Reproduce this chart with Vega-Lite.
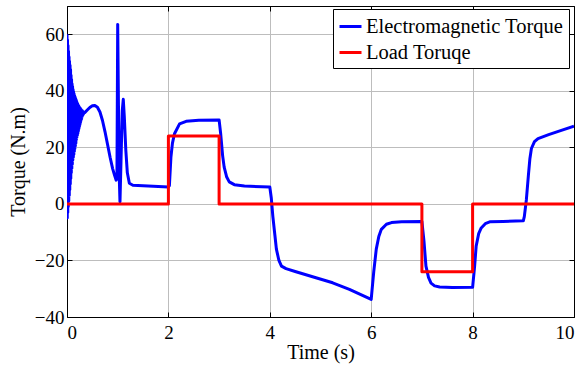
{
  "$schema": "https://vega.github.io/schema/vega-lite/v6.json",
  "width": 507,
  "height": 311,
  "autosize": {"type": "none"},
  "padding": {"left": 67, "top": 6, "right": 12, "bottom": 49},
  "background": "white",
  "config": {
    "view": {"stroke": "black", "strokeWidth": 1},
    "font": "Liberation Serif",
    "style": {
      "guide-label": {"font": "Liberation Serif", "fill": "black"},
      "guide-title": {"font": "Liberation Serif", "fill": "black"}
    },
    "axis": {
      "labelFont": "Liberation Serif",
      "labelFontSize": 19,
      "labelColor": "black",
      "titleFont": "Liberation Serif",
      "titleFontSize": 20,
      "titleFontWeight": "normal",
      "titleColor": "black",
      "domainColor": "black",
      "tickColor": "black",
      "gridColor": "#bdbdbd",
      "gridWidth": 1
    },
    "legend": {
      "labelFont": "Liberation Serif",
      "labelFontSize": 20.5,
      "labelColor": "black",
      "labelLimit": 0
    }
  },
  "data": {
    "values": [
      {"i": 1, "series": "Electromagnetic Torque", "t": 0, "torque": 60},
      {"i": 2, "series": "Electromagnetic Torque", "t": 0.005, "torque": -5},
      {"i": 3, "series": "Electromagnetic Torque", "t": 0.01, "torque": 58},
      {"i": 4, "series": "Electromagnetic Torque", "t": 0.015, "torque": -3},
      {"i": 5, "series": "Electromagnetic Torque", "t": 0.02, "torque": 56},
      {"i": 6, "series": "Electromagnetic Torque", "t": 0.025, "torque": -1},
      {"i": 7, "series": "Electromagnetic Torque", "t": 0.03, "torque": 54},
      {"i": 8, "series": "Electromagnetic Torque", "t": 0.035, "torque": 1},
      {"i": 9, "series": "Electromagnetic Torque", "t": 0.04, "torque": 52},
      {"i": 10, "series": "Electromagnetic Torque", "t": 0.045, "torque": 3},
      {"i": 11, "series": "Electromagnetic Torque", "t": 0.05, "torque": 50.5},
      {"i": 12, "series": "Electromagnetic Torque", "t": 0.055, "torque": 5},
      {"i": 13, "series": "Electromagnetic Torque", "t": 0.06, "torque": 49},
      {"i": 14, "series": "Electromagnetic Torque", "t": 0.065, "torque": 7},
      {"i": 15, "series": "Electromagnetic Torque", "t": 0.07, "torque": 47.5},
      {"i": 16, "series": "Electromagnetic Torque", "t": 0.075, "torque": 9},
      {"i": 17, "series": "Electromagnetic Torque", "t": 0.08, "torque": 45.5},
      {"i": 18, "series": "Electromagnetic Torque", "t": 0.085, "torque": 11},
      {"i": 19, "series": "Electromagnetic Torque", "t": 0.09, "torque": 44},
      {"i": 20, "series": "Electromagnetic Torque", "t": 0.095, "torque": 12.5},
      {"i": 21, "series": "Electromagnetic Torque", "t": 0.10, "torque": 42.5},
      {"i": 22, "series": "Electromagnetic Torque", "t": 0.105, "torque": 14},
      {"i": 23, "series": "Electromagnetic Torque", "t": 0.11, "torque": 41.5},
      {"i": 24, "series": "Electromagnetic Torque", "t": 0.115, "torque": 15.5},
      {"i": 25, "series": "Electromagnetic Torque", "t": 0.12, "torque": 40.5},
      {"i": 26, "series": "Electromagnetic Torque", "t": 0.125, "torque": 16.5},
      {"i": 27, "series": "Electromagnetic Torque", "t": 0.13, "torque": 39.7},
      {"i": 28, "series": "Electromagnetic Torque", "t": 0.135, "torque": 17.5},
      {"i": 29, "series": "Electromagnetic Torque", "t": 0.14, "torque": 39},
      {"i": 30, "series": "Electromagnetic Torque", "t": 0.145, "torque": 18.5},
      {"i": 31, "series": "Electromagnetic Torque", "t": 0.15, "torque": 38.3},
      {"i": 32, "series": "Electromagnetic Torque", "t": 0.155, "torque": 19.5},
      {"i": 33, "series": "Electromagnetic Torque", "t": 0.16, "torque": 37.8},
      {"i": 34, "series": "Electromagnetic Torque", "t": 0.165, "torque": 20.5},
      {"i": 35, "series": "Electromagnetic Torque", "t": 0.17, "torque": 37.3},
      {"i": 36, "series": "Electromagnetic Torque", "t": 0.175, "torque": 21.5},
      {"i": 37, "series": "Electromagnetic Torque", "t": 0.18, "torque": 36.8},
      {"i": 38, "series": "Electromagnetic Torque", "t": 0.185, "torque": 22.7},
      {"i": 39, "series": "Electromagnetic Torque", "t": 0.19, "torque": 36.3},
      {"i": 40, "series": "Electromagnetic Torque", "t": 0.195, "torque": 23.6},
      {"i": 41, "series": "Electromagnetic Torque", "t": 0.20, "torque": 35.8},
      {"i": 42, "series": "Electromagnetic Torque", "t": 0.205, "torque": 24.3},
      {"i": 43, "series": "Electromagnetic Torque", "t": 0.21, "torque": 35.4},
      {"i": 44, "series": "Electromagnetic Torque", "t": 0.215, "torque": 25},
      {"i": 45, "series": "Electromagnetic Torque", "t": 0.22, "torque": 35},
      {"i": 46, "series": "Electromagnetic Torque", "t": 0.225, "torque": 25.8},
      {"i": 47, "series": "Electromagnetic Torque", "t": 0.23, "torque": 34.7},
      {"i": 48, "series": "Electromagnetic Torque", "t": 0.235, "torque": 26.6},
      {"i": 49, "series": "Electromagnetic Torque", "t": 0.24, "torque": 34.4},
      {"i": 50, "series": "Electromagnetic Torque", "t": 0.245, "torque": 27.3},
      {"i": 51, "series": "Electromagnetic Torque", "t": 0.25, "torque": 34.1},
      {"i": 52, "series": "Electromagnetic Torque", "t": 0.255, "torque": 28},
      {"i": 53, "series": "Electromagnetic Torque", "t": 0.26, "torque": 33.9},
      {"i": 54, "series": "Electromagnetic Torque", "t": 0.265, "torque": 28.7},
      {"i": 55, "series": "Electromagnetic Torque", "t": 0.27, "torque": 33.6},
      {"i": 56, "series": "Electromagnetic Torque", "t": 0.275, "torque": 29.4},
      {"i": 57, "series": "Electromagnetic Torque", "t": 0.28, "torque": 33.4},
      {"i": 58, "series": "Electromagnetic Torque", "t": 0.285, "torque": 30},
      {"i": 59, "series": "Electromagnetic Torque", "t": 0.29, "torque": 33.1},
      {"i": 60, "series": "Electromagnetic Torque", "t": 0.295, "torque": 30.6},
      {"i": 61, "series": "Electromagnetic Torque", "t": 0.30, "torque": 33},
      {"i": 62, "series": "Electromagnetic Torque", "t": 0.305, "torque": 31.1},
      {"i": 63, "series": "Electromagnetic Torque", "t": 0.31, "torque": 32.8},
      {"i": 64, "series": "Electromagnetic Torque", "t": 0.315, "torque": 31.5},
      {"i": 65, "series": "Electromagnetic Torque", "t": 0.32, "torque": 32.6},
      {"i": 66, "series": "Electromagnetic Torque", "t": 0.325, "torque": 31.8},
      {"i": 67, "series": "Electromagnetic Torque", "t": 0.33, "torque": 32.4},
      {"i": 68, "series": "Electromagnetic Torque", "t": 0.35, "torque": 32.3},
      {"i": 69, "series": "Electromagnetic Torque", "t": 0.40, "torque": 33.2},
      {"i": 70, "series": "Electromagnetic Torque", "t": 0.45, "torque": 34.1},
      {"i": 71, "series": "Electromagnetic Torque", "t": 0.50, "torque": 34.7},
      {"i": 72, "series": "Electromagnetic Torque", "t": 0.55, "torque": 34.8},
      {"i": 73, "series": "Electromagnetic Torque", "t": 0.60, "torque": 34.2},
      {"i": 74, "series": "Electromagnetic Torque", "t": 0.65, "torque": 32.5},
      {"i": 75, "series": "Electromagnetic Torque", "t": 0.70, "torque": 29.5},
      {"i": 76, "series": "Electromagnetic Torque", "t": 0.75, "torque": 25.5},
      {"i": 77, "series": "Electromagnetic Torque", "t": 0.80, "torque": 21},
      {"i": 78, "series": "Electromagnetic Torque", "t": 0.85, "torque": 16.5},
      {"i": 79, "series": "Electromagnetic Torque", "t": 0.90, "torque": 12.5},
      {"i": 80, "series": "Electromagnetic Torque", "t": 0.94, "torque": 10},
      {"i": 81, "series": "Electromagnetic Torque", "t": 0.97, "torque": 8.4},
      {"i": 82, "series": "Electromagnetic Torque", "t": 0.985, "torque": 9},
      {"i": 83, "series": "Electromagnetic Torque", "t": 1.0, "torque": 63.5},
      {"i": 84, "series": "Electromagnetic Torque", "t": 1.015, "torque": 35},
      {"i": 85, "series": "Electromagnetic Torque", "t": 1.03, "torque": 10},
      {"i": 86, "series": "Electromagnetic Torque", "t": 1.045, "torque": 0.8},
      {"i": 87, "series": "Electromagnetic Torque", "t": 1.065, "torque": 15},
      {"i": 88, "series": "Electromagnetic Torque", "t": 1.09, "torque": 33},
      {"i": 89, "series": "Electromagnetic Torque", "t": 1.11, "torque": 37},
      {"i": 90, "series": "Electromagnetic Torque", "t": 1.13, "torque": 31},
      {"i": 91, "series": "Electromagnetic Torque", "t": 1.16, "torque": 19},
      {"i": 92, "series": "Electromagnetic Torque", "t": 1.19, "torque": 11},
      {"i": 93, "series": "Electromagnetic Torque", "t": 1.23, "torque": 7.3},
      {"i": 94, "series": "Electromagnetic Torque", "t": 1.3, "torque": 6.6},
      {"i": 95, "series": "Electromagnetic Torque", "t": 1.6, "torque": 6.3},
      {"i": 96, "series": "Electromagnetic Torque", "t": 2.0, "torque": 6.0},
      {"i": 97, "series": "Electromagnetic Torque", "t": 2.02, "torque": 6.5},
      {"i": 98, "series": "Electromagnetic Torque", "t": 2.05, "torque": 16.6},
      {"i": 99, "series": "Electromagnetic Torque", "t": 2.08, "torque": 21.5},
      {"i": 100, "series": "Electromagnetic Torque", "t": 2.12, "torque": 24.8},
      {"i": 101, "series": "Electromagnetic Torque", "t": 2.22, "torque": 28.3},
      {"i": 102, "series": "Electromagnetic Torque", "t": 2.35, "torque": 29.2},
      {"i": 103, "series": "Electromagnetic Torque", "t": 2.6, "torque": 29.6},
      {"i": 104, "series": "Electromagnetic Torque", "t": 3.0, "torque": 29.7},
      {"i": 105, "series": "Electromagnetic Torque", "t": 3.03, "torque": 25},
      {"i": 106, "series": "Electromagnetic Torque", "t": 3.07, "torque": 17},
      {"i": 107, "series": "Electromagnetic Torque", "t": 3.1, "torque": 13},
      {"i": 108, "series": "Electromagnetic Torque", "t": 3.15, "torque": 9.5},
      {"i": 109, "series": "Electromagnetic Torque", "t": 3.2, "torque": 7.8},
      {"i": 110, "series": "Electromagnetic Torque", "t": 3.3, "torque": 6.8},
      {"i": 111, "series": "Electromagnetic Torque", "t": 3.5, "torque": 6.3},
      {"i": 112, "series": "Electromagnetic Torque", "t": 4.0, "torque": 6.0},
      {"i": 113, "series": "Electromagnetic Torque", "t": 4.03, "torque": 2},
      {"i": 114, "series": "Electromagnetic Torque", "t": 4.06, "torque": -4.4},
      {"i": 115, "series": "Electromagnetic Torque", "t": 4.1, "torque": -11},
      {"i": 116, "series": "Electromagnetic Torque", "t": 4.13, "torque": -16},
      {"i": 117, "series": "Electromagnetic Torque", "t": 4.18, "torque": -20},
      {"i": 118, "series": "Electromagnetic Torque", "t": 4.23, "torque": -22},
      {"i": 119, "series": "Electromagnetic Torque", "t": 4.32, "torque": -22.9},
      {"i": 120, "series": "Electromagnetic Torque", "t": 4.5, "torque": -23.9},
      {"i": 121, "series": "Electromagnetic Torque", "t": 4.91, "torque": -26.1},
      {"i": 122, "series": "Electromagnetic Torque", "t": 5.24, "torque": -27.9},
      {"i": 123, "series": "Electromagnetic Torque", "t": 5.57, "torque": -30.2},
      {"i": 124, "series": "Electromagnetic Torque", "t": 6.0, "torque": -33.8},
      {"i": 125, "series": "Electromagnetic Torque", "t": 6.05, "torque": -24},
      {"i": 126, "series": "Electromagnetic Torque", "t": 6.1, "torque": -16},
      {"i": 127, "series": "Electromagnetic Torque", "t": 6.15, "torque": -11.5},
      {"i": 128, "series": "Electromagnetic Torque", "t": 6.2, "torque": -9},
      {"i": 129, "series": "Electromagnetic Torque", "t": 6.3, "torque": -7.2},
      {"i": 130, "series": "Electromagnetic Torque", "t": 6.4, "torque": -6.6},
      {"i": 131, "series": "Electromagnetic Torque", "t": 6.6, "torque": -6.3},
      {"i": 132, "series": "Electromagnetic Torque", "t": 7.0, "torque": -6.2},
      {"i": 133, "series": "Electromagnetic Torque", "t": 7.04, "torque": -13},
      {"i": 134, "series": "Electromagnetic Torque", "t": 7.08, "torque": -22},
      {"i": 135, "series": "Electromagnetic Torque", "t": 7.13, "torque": -26},
      {"i": 136, "series": "Electromagnetic Torque", "t": 7.18, "torque": -28},
      {"i": 137, "series": "Electromagnetic Torque", "t": 7.25, "torque": -29},
      {"i": 138, "series": "Electromagnetic Torque", "t": 7.35, "torque": -29.4},
      {"i": 139, "series": "Electromagnetic Torque", "t": 7.6, "torque": -29.6},
      {"i": 140, "series": "Electromagnetic Torque", "t": 8.0, "torque": -29.5},
      {"i": 141, "series": "Electromagnetic Torque", "t": 8.04, "torque": -22},
      {"i": 142, "series": "Electromagnetic Torque", "t": 8.07, "torque": -15},
      {"i": 143, "series": "Electromagnetic Torque", "t": 8.12, "torque": -10.5},
      {"i": 144, "series": "Electromagnetic Torque", "t": 8.17, "torque": -8.5},
      {"i": 145, "series": "Electromagnetic Torque", "t": 8.25, "torque": -7},
      {"i": 146, "series": "Electromagnetic Torque", "t": 8.35, "torque": -6.3},
      {"i": 147, "series": "Electromagnetic Torque", "t": 8.6, "torque": -6.2},
      {"i": 148, "series": "Electromagnetic Torque", "t": 9.0, "torque": -6.0},
      {"i": 149, "series": "Electromagnetic Torque", "t": 9.02, "torque": -4.5},
      {"i": 150, "series": "Electromagnetic Torque", "t": 9.06, "torque": 1.4},
      {"i": 151, "series": "Electromagnetic Torque", "t": 9.1, "torque": 10},
      {"i": 152, "series": "Electromagnetic Torque", "t": 9.13, "torque": 16},
      {"i": 153, "series": "Electromagnetic Torque", "t": 9.16, "torque": 19.6},
      {"i": 154, "series": "Electromagnetic Torque", "t": 9.22, "torque": 22},
      {"i": 155, "series": "Electromagnetic Torque", "t": 9.29, "torque": 23.1},
      {"i": 156, "series": "Electromagnetic Torque", "t": 9.5, "torque": 24.5},
      {"i": 157, "series": "Electromagnetic Torque", "t": 9.75, "torque": 26},
      {"i": 158, "series": "Electromagnetic Torque", "t": 10.0, "torque": 27.5},
      {"i": 201, "series": "Load Toruqe", "t": 0, "torque": 0},
      {"i": 202, "series": "Load Toruqe", "t": 2, "torque": 0},
      {"i": 203, "series": "Load Toruqe", "t": 2, "torque": 24},
      {"i": 204, "series": "Load Toruqe", "t": 3, "torque": 24},
      {"i": 205, "series": "Load Toruqe", "t": 3, "torque": 0},
      {"i": 206, "series": "Load Toruqe", "t": 7, "torque": 0},
      {"i": 207, "series": "Load Toruqe", "t": 7, "torque": -24},
      {"i": 208, "series": "Load Toruqe", "t": 8, "torque": -24},
      {"i": 209, "series": "Load Toruqe", "t": 8, "torque": 0},
      {"i": 210, "series": "Load Toruqe", "t": 10, "torque": 0}
    ]
  },
  "layer": [
    {
      "mark": {"type": "line", "strokeWidth": 3, "strokeJoin": "round", "clip": true},
      "encoding": {
        "x": {
          "field": "t", "type": "quantitative",
          "scale": {"domain": [0, 10], "nice": false, "zero": false},
          "axis": {"title": "Time (s)", "values": [0, 2, 4, 6, 8, 10], "tickSize": -5, "labelPadding": 11, "titlePadding": 0, "grid": true, "labelFont": "Liberation Serif", "titleFont": "Liberation Serif"}
        },
        "y": {
          "field": "torque", "type": "quantitative",
          "scale": {"domain": [-40, 70], "nice": false, "zero": false},
          "axis": {"title": "Torque (N.m)", "values": [-40, -20, 0, 20, 40, 60], "tickSize": -5, "labelPadding": 8, "titlePadding": 6, "grid": true, "labelFont": "Liberation Serif", "titleFont": "Liberation Serif"}
        },
        "color": {
          "field": "series", "type": "nominal",
          "scale": {"domain": ["Electromagnetic Torque", "Load Toruqe"], "range": ["#0000ff", "#ff0000"]},
          "legend": {
            "title": null,
            "orient": "none",
            "legendX": 266,
            "legendY": 3,
            "symbolType": "stroke",
            "symbolSize": 484,
            "symbolStrokeWidth": 3,
            "labelFont": "Liberation Serif",
            "labelFontSize": 20.5,
            "labelLimit": 0,
            "labelOffset": 3,
            "padding": 5,
            "rowPadding": 3,
            "strokeColor": "black",
            "fillColor": "white"
          }
        },
        "order": {"field": "i", "type": "quantitative"}
      }
    },
    {
      "mark": {"type": "line", "opacity": 0},
      "encoding": {
        "x": {
          "field": "t", "type": "quantitative",
          "axis": {"orient": "top", "title": null, "labels": false, "values": [0, 2, 4, 6, 8, 10], "tickSize": -5, "grid": false}
        },
        "y": {
          "field": "torque", "type": "quantitative",
          "axis": {"orient": "right", "title": null, "labels": false, "values": [-40, -20, 0, 20, 40, 60], "tickSize": -5, "grid": false}
        },
        "detail": {"field": "series", "type": "nominal"},
        "order": {"field": "i", "type": "quantitative"}
      }
    }
  ],
  "resolve": {"axis": {"x": "independent", "y": "independent"}}
}
